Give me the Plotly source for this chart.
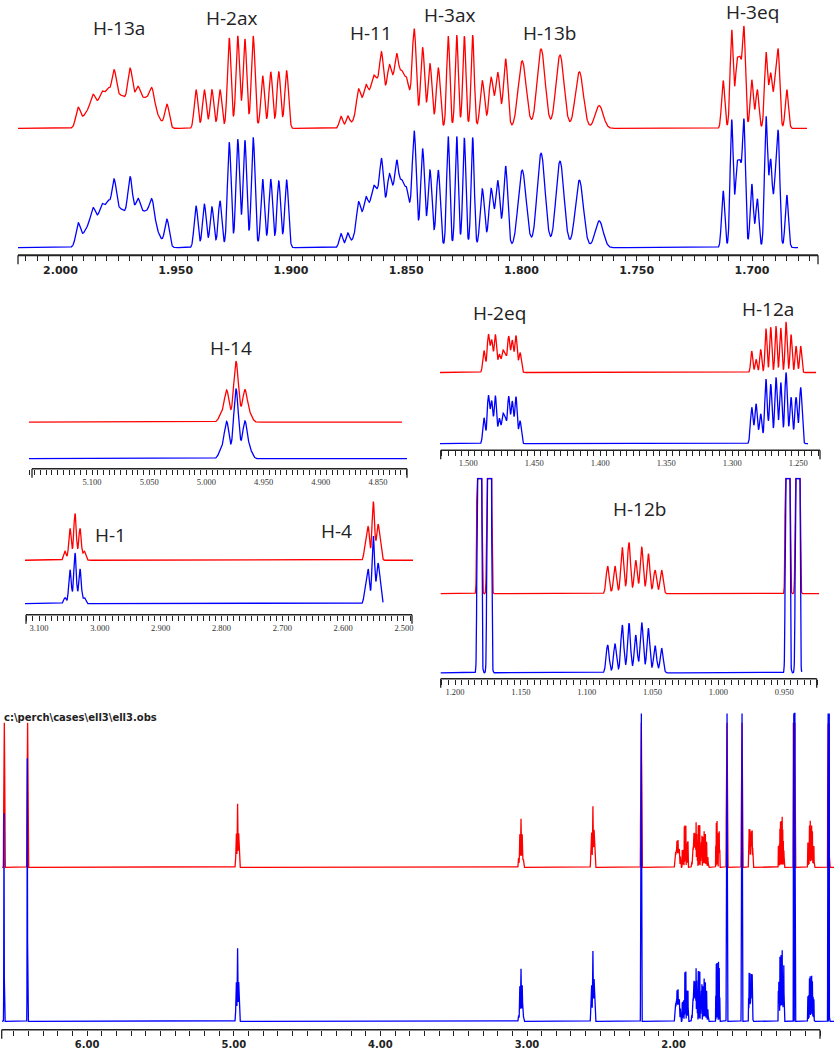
import numpy as np
import plotly.graph_objects as go

# ======================= DATA =======================
# Line positions in ppm; "calc" = red trace, "obs" = blue trace intensities
# (intensities measured in the scale of the panel where the multiplet is shown)

H13a_env_ppm = [1.9872, 1.9811, 1.9742, 1.9672, 1.9612]
H13a_env_calc = [18, 24, 30, 24, 26]
H13a_env_obs = [21, 28, 35, 28, 31]

H13a_ppm = [1.9924, 1.9859, 1.9820, 1.9794, 1.9768, 1.9698, 1.9664, 1.9603, 1.9538]
H13a_calc = [17, 11, 9, 12, 29, 33, 12, 14, 23]
H13a_obs = [20, 13, 11, 14, 34, 39, 14, 17, 27]

H2ax_ppm = [1.9412, 1.9376, 1.9343, 1.9308, 1.9268, 1.9231, 1.9200, 1.9164,
            1.9123, 1.9088, 1.9053, 1.9019]
H2ax_calc = [39, 39, 39, 39, 91, 93, 90, 93, 53, 57, 57, 58]
H2ax_obs = [42, 44, 41, 47, 106, 109, 108, 111, 69, 69, 67, 68]

H11_env_ppm = [1.8692, 1.8631, 1.8562, 1.8505]
H11_env_calc = [25, 46, 44, 40]
H11_env_obs = [29, 54, 51, 47]

H11_ppm = [1.8783, 1.8754, 1.8708, 1.8675, 1.8643, 1.8607, 1.8574, 1.8541, 1.8520, 1.8498]
H11_calc = [12, 11, 18, 13, 7, 37, 19, 28, 12, 10]
H11_obs = [14, 13, 21, 15, 8, 43, 22, 33, 14, 12]

H3ax_a_ppm = [1.8465, 1.8429, 1.8397, 1.8361]
H3ax_a_calc = [88, 81, 65, 61]
H3ax_a_obs = [103, 99, 78, 78]

H3ax_b_ppm = [1.8318, 1.8281, 1.8248, 1.8212]
H3ax_b_calc = [93, 94, 93, 94]
H3ax_b_obs = [112, 112, 110, 111]

H3ax_c_ppm = [1.8170, 1.8132, 1.8103, 1.8069]
H3ax_c_calc = [48, 51, 56, 70]
H3ax_c_obs = [59, 59, 67, 82]

H13b_ppm = [1.7997, 1.7915, 1.7833, 1.7749, 1.7663]
H13b_calc = [68, 80, 74, 57, 23]
H13b_obs = [78, 95, 87, 68, 27]

H3eq_ppm = [1.7125, 1.7088, 1.7066, 1.7052, 1.7035, 1.7001, 1.6977, 1.6939,
            1.6919, 1.6900, 1.6886, 1.6849]
H3eq_calc = [48, 99, 60, 60, 100, 49, 39, 76, 54, 42, 74, 39]
H3eq_obs = [57, 128, 74, 73, 126, 64, 49, 131, 86, 57, 110, 53]

H14_ppm = [4.9872, 4.9823, 4.9741, 4.9664, 4.9619]
H14_calc = [7, 32, 61, 32, 7]
H14_obs = [8, 37, 70, 37, 8]

H1_ppm = [3.0573, 3.0490, 3.0408, 3.0326, 3.0255]
H1_calc = [9, 32, 47, 32, 9]
H1_obs = [6, 34, 51, 35, 6]

H4_ppm = [2.5633, 2.5587, 2.5504, 2.5432, 2.5394]
H4_calc = [18, 32, 59, 32, 18]
H4_obs = [18, 33, 68, 36, 20]

H2eq_ppm = [1.4881, 1.4848, 1.4823, 1.4795, 1.4765, 1.4739, 1.4720, 1.4694,
            1.4667, 1.4639, 1.4608]
H2eq_calc = [22, 38, 32, 38, 18, 20, 17, 36, 32, 37, 20]
H2eq_obs = [26, 48, 42, 48, 25, 27, 24, 47, 42, 47, 23]

H12a_ppm = [1.2853, 1.2820, 1.2785, 1.2745, 1.2709, 1.2669, 1.2633, 1.2593,
            1.2555, 1.2517, 1.2482]
H12a_calc = [21.7, 13.3, 23.3, 44.3, 45.7, 46.7, 45, 51, 38.3, 26.7, 26.7]
H12a_obs = [36.7, 40, 30, 65, 60, 66.7, 61.7, 71.7, 46.7, 46.7, 56.7]

H12b_ppm = [1.0841, 1.0785, 1.0730, 1.0679, 1.0628, 1.0582, 1.0532, 1.0481, 1.0431]
H12b_calc = [27.7, 27.7, 46.7, 51.7, 33.7, 46.7, 40.3, 23.7, 23.7]
H12b_obs = [28, 29, 48, 50, 38, 50.7, 44.7, 27.3, 24.7]

# methyl doublets (off scale)
Me_ppm = [1.1815, 1.1740, 0.9474, 0.9398]
Me_calc = [3000, 3000, 3000, 3000]
Me_obs = [3000, 3000, 3000, 3000]

# large singlets of the full spectrum (off scale)
S_ppm = [6.5675, 6.4086, 2.2224, 1.6378, 1.5355]
S_calc = [3000, 3000, 3000, 3000, 3000]
S_obs = [210, 265, 3000, 3000, 3000]

# tick labels of each axis
top_ticks = [2.0, 1.95, 1.9, 1.85, 1.8, 1.75, 1.7]
h14_ticks = [5.1, 5.05, 5.0, 4.95, 4.9, 4.85]
h1_ticks = [3.1, 3.0, 2.9, 2.8, 2.7, 2.6, 2.5]
h2eq_ticks = [1.5, 1.45, 1.4, 1.35, 1.3, 1.25]
h12b_ticks = [1.2, 1.15, 1.1, 1.05, 1.0, 0.95]
full_ticks = [6.0, 5.0, 4.0, 3.0, 2.0]

TITLE = "c:\\perch\\cases\\ell3\\ell3.obs"

# ======================= LAYOUT / STYLE ====================================
W, H = 834, 1050
RED, BLUE = "#ff0000", "#0000ff"
BIG = dict(family="DejaVu Sans", size=11, color="#222", weight="bold")
SMALL = dict(family="Liberation Sans Narrow", size=8.5, color="#333")

# panel geometry (pixels) and vertical display gain
PANELS = {
    "top":  dict(x0=60.5, p0=2.0, k=2305, dom=(18, 818), top=0, axis=257,
                 red=129.3, blue=249.3, clip_r=None, clip_b=None, gain=2.2,
                 ext_r=(18, 807), ext_b=(18, 798), line=(18, 818),
                 ticks=top_ticks, minor=0.005, fmt=".3f", font=BIG, lw=2),
    "h14":  dict(x0=92, p0=5.1, k=1144, dom=(29, 408), top=330, axis=472,
                 red=425, blue=461.7, clip_r=None, clip_b=None, gain=0.95,
                 ext_r=(29, 402), ext_b=(29, 407), line=(32, 407),
                 ticks=h14_ticks, minor=0.005, fmt=".3f", font=SMALL, lw=1.5),
    "h1":   dict(x0=39, p0=3.1, k=608.3, dom=(25, 414), top=500, axis=619,
                 red=564, blue=607.7, clip_r=None, clip_b=None, gain=0.96,
                 ext_r=(25, 413), ext_b=(25, 383), line=(26, 412),
                 ticks=h1_ticks, minor=0.01, fmt=".3f", font=SMALL, lw=1.5),
    "h2eq": dict(x0=468.3, p0=1.5, k=1320, dom=(440, 821), top=300, axis=453.3,
                 red=375, blue=446.7, clip_r=None, clip_b=None, gain=1.0,
                 ext_r=(440, 816), ext_b=(440, 808), line=(440.7, 820),
                 ticks=h2eq_ticks, minor=0.005, fmt=".3f", font=SMALL, lw=1.5),
    "h12b": dict(x0=455, p0=1.2, k=1317, dom=(440, 820), top=481, axis=683.3,
                 red=597.7, blue=677.3, clip_r=481.7, clip_b=481.7, gain=1.1,
                 ext_r=(440.7, 819), ext_b=(440.7, 801.7), line=(440.7, 816.7),
                 ticks=h12b_ticks, minor=0.005, fmt=".3f", font=SMALL, lw=1.5),
    "full": dict(x0=87.2, p0=6.0, k=146.6, dom=(0, 834), top=700, axis=1036.7,
                 red=873.3, blue=1028.3, clip_r=728.3, clip_b=718.3, gain=1.0,
                 ext_r=(2, 834), ext_b=(2, 834), line=(1.7, 820),
                 ticks=full_ticks, minor=0.1, fmt=".2f",
                 font=dict(family="DejaVu Sans", size=10, color="#222", weight="bold"), lw=1.5),
}

# multiplet table: (panel whose scale the intensities were read in, sigma ppm, obs sigma)
MULTIPLETS = [
    ("top", 0.00304, None, H13a_env_ppm, H13a_env_calc, H13a_env_obs),
    ("top", 0.00095, None, H13a_ppm, H13a_calc, H13a_obs),
    ("top", 0.00080, None, H2ax_ppm, H2ax_calc, H2ax_obs),
    ("top", 0.00260, None, H11_env_ppm, H11_env_calc, H11_env_obs),
    ("top", 0.00078, None, H11_ppm, H11_calc, H11_obs),
    ("top", 0.00087, None, H3ax_a_ppm, H3ax_a_calc, H3ax_a_obs),
    ("top", 0.00070, None, H3ax_b_ppm, H3ax_b_calc, H3ax_b_obs),
    ("top", 0.00095, None, H3ax_c_ppm, H3ax_c_calc, H3ax_c_obs),
    ("top", 0.00174, None, H13b_ppm, H13b_calc, H13b_obs),
    ("top", 0.00069, None, H3eq_ppm, H3eq_calc, H3eq_obs),
    ("h14", 0.00210, None, H14_ppm, H14_calc, H14_obs),
    ("h1", 0.00210, None, H1_ppm, H1_calc, H1_obs),
    ("h1", 0.00210, None, H4_ppm, H4_calc, H4_obs),
    ("h2eq", 0.00091, None, H2eq_ppm, H2eq_calc, H2eq_obs),
    ("h2eq", 0.00076, 0.00098, H12a_ppm, H12a_calc, H12a_obs),
    ("h12b", 0.00114, None, H12b_ppm, H12b_calc, H12b_obs),
    ("h12b", 0.00076, None, Me_ppm, Me_calc, Me_obs),
    ("full", 0.00120, None, S_ppm, S_calc, S_obs),
]

LABELS = [  # text, x px, y px
    ("H-13a", 119, 28), ("H-2ax", 231.5, 18), ("H-11", 371, 33),
    ("H-3ax", 450, 15), ("H-13b", 549, 33.5), ("H-3eq", 752, 12.5),
    ("H-14", 231, 350.5), ("H-1", 110, 538.5), ("H-4", 336, 534.5),
    ("H-2eq", 499, 315.5), ("H-12a", 768, 311.5), ("H-12b", 639, 512),
]


def spectrum(grid, kind):
    y = np.zeros_like(grid)
    for panel, sig, sig_obs, ppm, calc, obs in MULTIPLETS:
        gain = PANELS[panel]["gain"]
        s = sig_obs if (kind == "obs" and sig_obs) else sig
        hs = calc if kind == "calc" else obs
        for p, h in zip(ppm, hs):
            d = (grid - p) / s
            m = np.abs(d) < 10
            y[m] += (h / gain) * np.exp(-0.5 * d[m] ** 2)
    return y


def px2ppm(P, x):
    return P["p0"] - (x - P["x0"]) / P["k"]


fig = go.Figure()
layout = dict(width=W, height=H, margin=dict(l=0, r=0, t=0, b=0),
              paper_bgcolor="white", plot_bgcolor="white", showlegend=False)
shapes, annotations = [], []

for i, (name, P) in enumerate(PANELS.items(), start=1):
    xs = "" if i == 1 else str(i)
    for kind, color, row, ext, clip_row in [("calc", RED, P["red"], P["ext_r"], P["clip_r"]),
                                            ("obs", BLUE, P["blue"], P["ext_b"], P["clip_b"])]:
        pa, pb = px2ppm(P, ext[0]), px2ppm(P, ext[1])
        n = max(int(abs(pa - pb) / 0.0002), int((ext[1] - ext[0]) * 6))
        grid = np.linspace(pa, pb, n)
        base = P["axis"] - row
        y = base + P["gain"] * spectrum(grid, kind)
        if clip_row is not None:
            y = np.minimum(y, P["axis"] - clip_row)
        fig.add_trace(go.Scatter(x=grid, y=np.round(y, 2), mode="lines",
                                 line=dict(color=color, width=1.3),
                                 xaxis="x" + xs, yaxis="y" + xs, hoverinfo="skip"))
    a, b = P["dom"]
    layout["xaxis" + xs] = dict(
        domain=[a / W, b / W], range=[px2ppm(P, a), px2ppm(P, b)], anchor="y" + xs,
        showgrid=False, zeroline=False, showline=False,
        ticks="outside", ticklen=5, tickwidth=1, tickcolor="#222",
        tickmode="array", tickvals=P["ticks"], tickformat=P["fmt"], tickfont=P["font"],
        minor=dict(dtick=P["minor"], tick0=0, ticks="outside", ticklen=5,
                   tickwidth=1, tickcolor="#222"))
    layout["yaxis" + xs] = dict(domain=[1 - P["axis"] / H, 1 - P["top"] / H],
                                range=[0, P["axis"] - P["top"]], visible=False,
                                anchor="x" + xs)
    ya = 1 - P["axis"] / H
    shapes.append(dict(type="line", xref="paper", yref="paper",
                       x0=P["line"][0] / W, x1=P["line"][1] / W, y0=ya, y1=ya,
                       line=dict(color="#222", width=P["lw"])))
    # longer end ticks at both ends of the axis line
    for xe in P["line"]:
        shapes.append(dict(type="line", xref="paper", yref="paper",
                           x0=xe / W, x1=xe / W, y0=ya, y1=ya - 9 / H,
                           line=dict(color="#222", width=1.3)))

for text, x, y in LABELS:
    annotations.append(dict(text=text, x=x / W, y=1 - y / H, xref="paper", yref="paper",
                            xanchor="center", yanchor="middle", showarrow=False,
                            font=dict(family="Open Sans", size=19, color="#222")))
annotations.append(dict(text=TITLE, x=2 / W, y=1 - 722.7 / H, xref="paper", yref="paper",
                        xanchor="left", yanchor="middle", showarrow=False,
                        font=dict(family="DejaVu Sans", size=10, color="#222", weight="bold")))

layout["shapes"] = shapes
layout["annotations"] = annotations
fig.update_layout(**layout)
fig.write_html("out.html", config={"displayModeBar": False, "staticPlot": True},
               post_script="document.body.style.margin='0';")
